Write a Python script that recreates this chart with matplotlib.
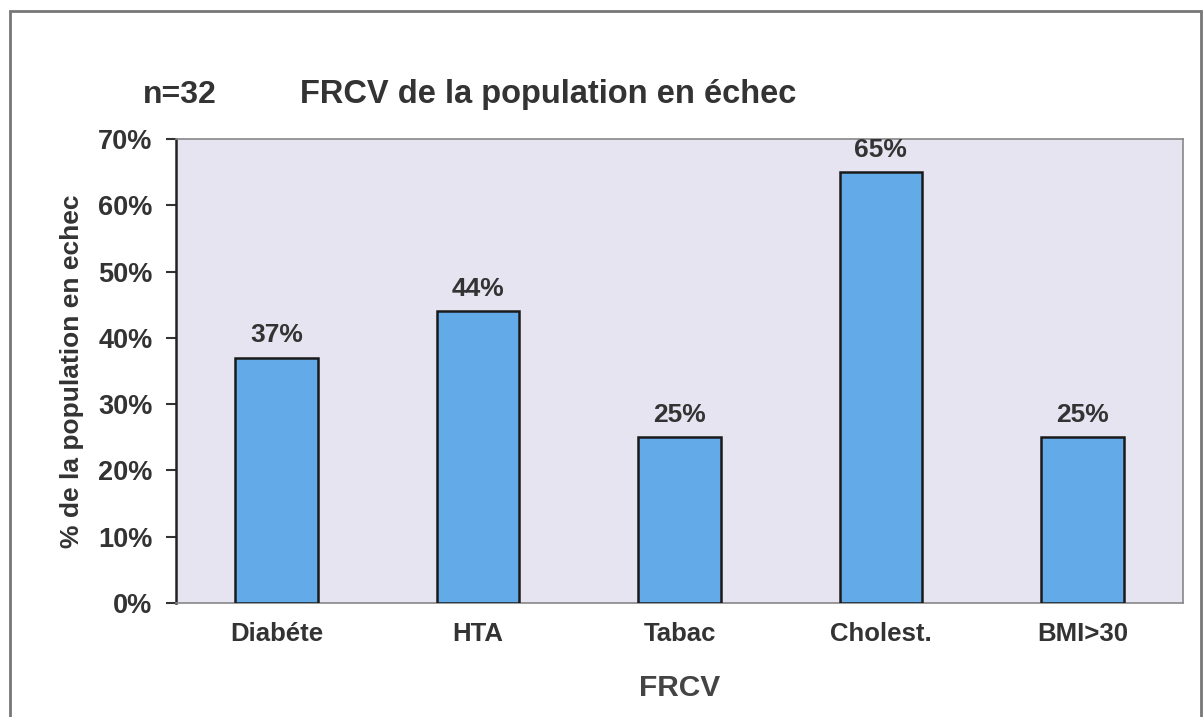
import numpy as np
import matplotlib.pyplot as plt
from matplotlib.patches import Rectangle

categories = ['Diabéte', 'HTA', 'Tabac', 'Cholest.', 'BMI>30']
values = [37, 44, 25, 65, 25]
yticks = [0, 10, 20, 30, 40, 50, 60, 70]

plt.rcParams['font.family'] = ['Liberation Sans', 'DejaVu Sans']
plt.rcParams['font.weight'] = 'bold'
txt = '#333333'

fig = plt.figure(figsize=(12.04, 7.17), dpi=100)
# outer frame
fig.patches.append(Rectangle((10/1204, -0.05), 1191/1204, 1 - 11/717 + 0.05,
                             transform=fig.transFigure, fill=False,
                             edgecolor='#777777', lw=2))

ax = fig.add_axes([176/1204, 114/717, 1007/1204, 464/717])
ax.set_facecolor('#e6e4f0')

x = np.arange(len(categories))
bars = ax.bar(x, values, width=0.41, color='#63abe8', edgecolor='#1a1a1a', lw=1.8, zorder=3)
for xi, v in zip(x, values):
    ax.text(xi, v + 1.6, f'{v}%', ha='center', va='bottom', fontsize=19,
            fontweight='bold', color=txt)

ax.set_xlim(-0.5, len(categories) - 0.5)
ax.set_ylim(0, 70)
ax.set_yticks(yticks)
ax.set_yticklabels([f'{t}%' for t in yticks], fontsize=19.5, fontweight='bold', color=txt)
ax.set_xticks(x)
ax.set_xticklabels(categories, fontsize=18.5, fontweight='bold', color=txt)
ax.tick_params(axis='x', length=0, pad=14)
ax.tick_params(axis='y', length=7, width=1.5, color='#333333', pad=10)

ax.spines['left'].set_color('#222222')
ax.spines['left'].set_linewidth(1.8)
for s in ['top', 'bottom']:
    ax.spines[s].set_color('#888888')
    ax.spines[s].set_linestyle((0, (3, 1)))
    ax.spines[s].set_linewidth(1.2)
ax.spines['right'].set_color('#888888')
ax.spines['right'].set_linewidth(1.2)

ax.set_ylabel('% de la population en echec', fontsize=19, fontweight='bold',
              color=txt, labelpad=10)
ax.set_xlabel('FRCV', fontsize=21.5, fontweight='bold', color='#444444', labelpad=20)

fig.text(180/1204, 1 - 95/717, 'n=32', fontsize=23, fontweight='bold',
         color=txt, ha='center', va='center')
fig.text(300/1204, 1 - 95/717, 'FRCV de la population en échec', fontsize=23.5,
         fontweight='bold', color=txt, ha='left', va='center')

fig.savefig('out.png', dpi=100)
